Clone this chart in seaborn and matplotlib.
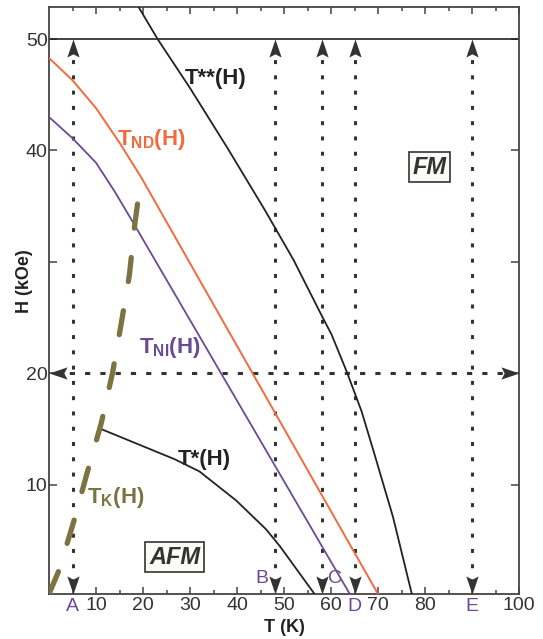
"""H-T phase diagram: T**, T_ND, T_NI, T*, T_K boundaries with field/temperature sweeps."""
import numpy as np
import matplotlib; matplotlib.use('Agg')
import matplotlib.pyplot as plt
import seaborn as sns

sns.set_theme(style='ticks')
plt.rcParams['font.family'] = ['Liberation Sans', 'DejaVu Sans']
plt.rcParams['mathtext.fontset'] = 'custom'
plt.rcParams['mathtext.rm'] = 'Liberation Sans:bold'
plt.rcParams['mathtext.it'] = 'Liberation Sans:bold'
plt.rcParams['mathtext.bf'] = 'Liberation Sans:bold'

# phase boundaries (T in K, H in kOe)
T_ss = [18.6, 23.1, 30, 38, 46, 52, 58, 60.1, 63.3, 66.5, 69, 73.2, 77.2]
H_ss = [53.2, 50, 45.6, 40.2, 34.6, 30.2, 25.2, 23.5, 20.2, 16.6, 13.1, 7.1, 0.2]
T_nd = [0, 5, 10, 15, 19.6, 70]
H_nd = [48.3, 46.3, 43.8, 40.7, 37.6, 0.2]
T_ni = [0, 5, 10, 14, 17.8, 64]
H_ni = [43, 41.1, 38.9, 36.3, 33.6, 0.2]
T_s = [11.1, 26.7, 32, 39.8, 46.2, 49.1, 56.5]
H_s = [15, 12.3, 11.2, 8.6, 6, 4.5, 0.2]
T_k = [0, 2.2, 5.4, 8.2, 11.1, 13.5, 15.3, 17.1, 18.2, 19.6]
H_k = [0.2, 2.4, 6.9, 11.2, 15.5, 20, 24.3, 28.8, 33.2, 37.6]

# measurement sweeps
sweep_T = [5, 48, 58, 65, 90]
sweep_names = ['A', 'B', 'C', 'D', 'E']
H_sweep = 20
H_max = 50
H_lo, H_hi = 0.2, 52.9

xticks = [10, 20, 30, 40, 50, 60, 70, 80, 90, 100]
xticklabels = ['10', '20', '30', '40', '50', '60', '70', '80', '', '100']
yticks = [10, 20, 30, 40, 50]
yticklabels = ['10', '20', '', '40', '50']

ORANGE = '#f26a3d'; PURPLE = '#6a4a94'; OLIVE = '#7b7442'
BLACK = '#222222'; GUIDE = '#333333'

fig = plt.figure(figsize=(5.43, 6.39), dpi=100)
ax = fig.add_axes([49/543, 1-594/639, 470/543, 587.3/639])

# guide lines
arrow_up = [(0, 0), (-0.34, -1), (0, -0.82), (0.34, -1), (0, 0)]
arrow_dn = [(x, -y) for x, y in arrow_up]
arrow_lf = [(-y, x) for x, y in arrow_up]
arrow_rt = [(y, x) for x, y in arrow_up]
ax.axhline(H_max, color=BLACK, lw=1.2, zorder=2)
for t in sweep_T:
    sns.lineplot(x=[t, t], y=[H_lo + 1, H_max - 1], ax=ax, color=GUIDE, lw=2.2,
                 linestyle=(0, (1.3, 3.7)), estimator=None, zorder=2)
    ax.plot([t], [H_max], marker=arrow_up, ms=26, color=GUIDE, mew=0, zorder=3)
    ax.plot([t], [H_lo], marker=arrow_dn, ms=26, color=GUIDE, mew=0, zorder=3,
            clip_on=False)
sns.lineplot(x=[1, 99], y=[H_sweep, H_sweep], ax=ax, color=GUIDE, lw=2.2,
             linestyle=(0, (1.7, 3.3)), estimator=None, zorder=2)
ax.plot([0], [H_sweep], marker=arrow_lf, ms=26, color=GUIDE, mew=0, zorder=3, clip_on=False)
ax.plot([100], [H_sweep], marker=arrow_rt, ms=26, color=GUIDE, mew=0, zorder=3, clip_on=False)

# phase boundaries
kw = dict(ax=ax, estimator=None, sort=False, zorder=4)
sns.lineplot(x=T_ss, y=H_ss, color=BLACK, lw=1.3, **kw)
sns.lineplot(x=T_nd, y=H_nd, color=ORANGE, lw=1.4, **kw)
sns.lineplot(x=T_ni, y=H_ni, color=PURPLE, lw=1.3, **kw)
sns.lineplot(x=T_s, y=H_s, color=BLACK, lw=1.3, **kw)
ln = sns.lineplot(x=T_k, y=H_k, color=OLIVE, lw=3.8, **kw).lines[-1]
ln.set_linestyle((0, (4.6, 5.6)))
ln.set_dash_capstyle('round')

# curve labels
fs = 16
ax.text(28.8, 46.0, 'T**(H)', color=BLACK, fontsize=fs, fontweight='bold')
ax.text(14.5, 40.5, r'T$_{ND}$(H)', color=ORANGE, fontsize=fs, fontweight='bold')
ax.text(19.2, 21.8, r'T$_{NI}$(H)', color=PURPLE, fontsize=fs, fontweight='bold')
ax.text(27.3, 11.8, 'T*(H)', color=BLACK, fontsize=fs, fontweight='bold')
ax.text(8.1, 8.4, r'T$_{K}$(H)', color=OLIVE, fontsize=fs, fontweight='bold')

box = dict(boxstyle='square,pad=0.15', fc='#fafaf7', ec='#333333', lw=1.2)
ax.text(81, 38.5, 'FM', fontsize=17, fontweight='bold', fontstyle='italic',
        color='#333333', ha='center', va='center', bbox=box, zorder=5)
ax.text(26.7, 3.5, 'AFM', fontsize=17, fontweight='bold', fontstyle='italic',
        color='#333333', ha='center', va='center', bbox=box, zorder=5)

# sweep letters
xt = ax.get_xaxis_transform()
letter_above = {'A': False, 'B': True, 'C': True, 'D': False, 'E': False}
letter_dx = {'A': 0, 'B': -2.8, 'C': 2.8, 'D': 0, 'E': 0}
for t, n in zip(sweep_T, sweep_names):
    if letter_above[n]:
        ax.text(t + letter_dx[n], 0.012, n, transform=xt, color=PURPLE,
                fontsize=14, ha='center', va='bottom')
    else:
        ax.text(t + letter_dx[n], -0.0065, n, transform=xt, color=PURPLE,
                fontsize=14, ha='center', va='top')

ax.set_xlim(0, 100)
ax.set_ylim(H_lo, H_hi)
ax.set_xticks(xticks)
ax.set_xticklabels(xticklabels)
ax.set_xticks(np.arange(5, 100, 10), minor=True)
ax.set_yticks(yticks)
ax.set_yticklabels(yticklabels)
ax.tick_params(axis='both', which='both', direction='in', top=True, right=True,
               colors='#444444', labelcolor='#333333', labelsize=14, width=1.1)
ax.tick_params(axis='x', which='major', length=5, pad=2)
ax.tick_params(axis='x', which='minor', length=3)
ax.tick_params(axis='y', which='major', length=6, pad=1)
for s in ax.spines.values():
    s.set_color('#444444'); s.set_linewidth(1.3)

ax.set_xlabel('T (K)', fontsize=13, fontweight='bold', color='#222222', labelpad=4)
ax.set_ylabel('H (kOe)', fontsize=13, fontweight='bold', color='#222222')
ax.yaxis.set_label_coords(-0.034, 0.533)

plt.savefig('out.png', dpi=100)
plt.close()
